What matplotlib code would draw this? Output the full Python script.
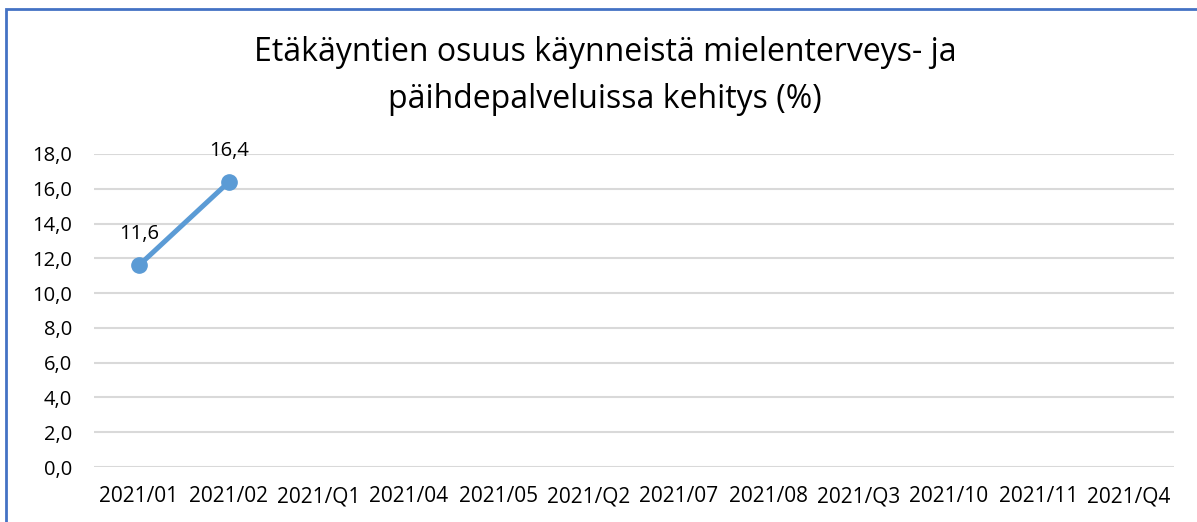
import matplotlib.pyplot as plt
from matplotlib.patches import Rectangle

# data
categories = ["2021/01", "2021/02", "2021/Q1", "2021/04", "2021/05", "2021/Q2",
              "2021/07", "2021/08", "2021/Q3", "2021/10", "2021/11", "2021/Q4"]
values = [11.6, 16.4]
labels = ["11,6", "16,4"]
yticks = [0, 2, 4, 6, 8, 10, 12, 14, 16, 18]

plt.rcParams['font.family'] = ['Open Sans', 'DejaVu Sans']

fig = plt.figure(figsize=(11.97, 5.22), dpi=100)
# y=0 at pixel 467, y=18 at pixel 154
ax = fig.add_axes([94 / 1197, (522 - 467) / 522, 1080 / 1197, (467 - 154) / 522])

x = list(range(len(categories)))
ax.plot(x[:len(values)], values, color="#5B9BD5", lw=3.6, marker="o", ms=11,
        solid_capstyle="round", zorder=3)
for xi, v, t in zip(x, values, labels):
    ax.annotate(t, (xi, v), xytext=(0, 22.5), textcoords="offset points",
                ha="center", va="center", fontsize=14.5, color="#000000")

ax.set_xlim(-0.5, len(categories) - 0.5)
ax.set_ylim(0, 18)
ax.set_xticks(x)
ax.set_xticklabels(categories, fontsize=15)
ax.set_yticks(yticks)
ax.set_yticklabels([f"{v:.1f}".replace(".", ",") for v in yticks], fontsize=14.5)
ax.tick_params(length=0)
ax.tick_params(axis="x", pad=14)
ax.tick_params(axis="y", pad=16)
ax.grid(axis="y", color="#D9D9D9", lw=1.5)
ax.set_axisbelow(True)
for s in ax.spines.values():
    s.set_visible(False)

fig.text(605 / 1197, 1 - 76 / 522,
         "Etäkäyntien osuus käynneistä mielenterveys- ja\npäihdepalveluissa kehitys (%)",
         ha="center", va="center", fontsize=23, linespacing=1.55)

# blue frame (cropped on right and bottom)
fig.add_artist(Rectangle((6 / 1197, -0.1), 1.2, 1 - 9 / 522 + 0.1,
                         transform=fig.transFigure, fill=False,
                         edgecolor="#4472C4", lw=2))

fig.savefig("out.png", dpi=100)
